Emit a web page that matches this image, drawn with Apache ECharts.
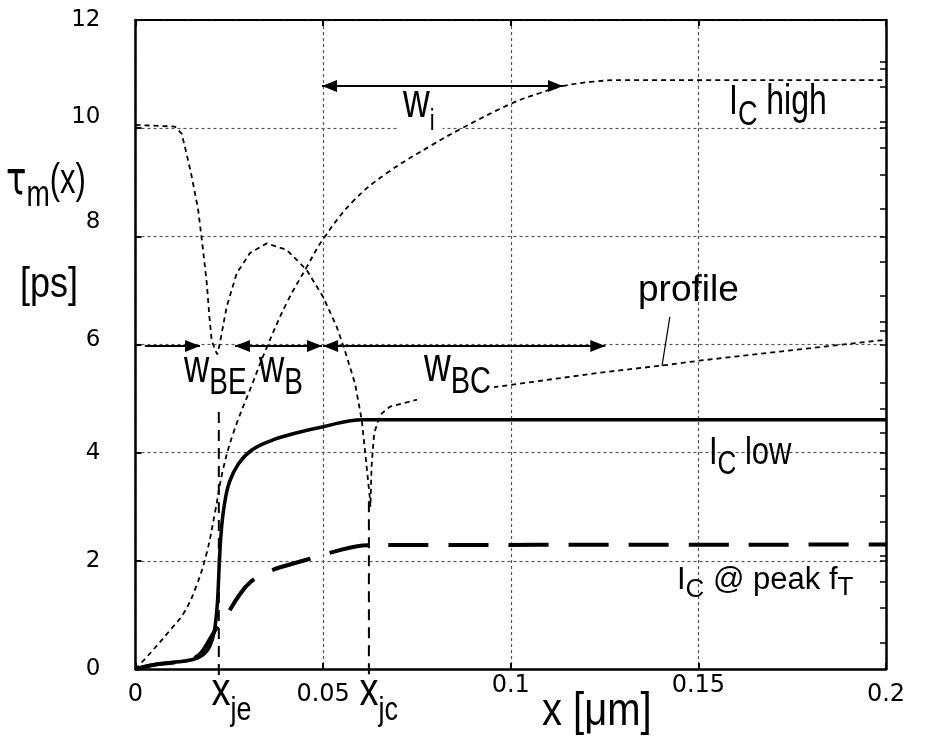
<!DOCTYPE html>
<html><head><meta charset="utf-8">
<script src="https://cdn.jsdelivr.net/npm/echarts@6/dist/echarts.min.js"></script>
<style>html,body{margin:0;padding:0;background:#fff}#c{width:927px;height:737px}</style>
</head><body><div id="c"></div>
<script>
// ---------------- data ----------------
const xTickLabels = ['0', '0.05', '0.1', '0.15', '0.2'];
const yTickLabels = ['0', '2', '4', '6', '8', '10', '12'];

// I_C low (solid)
const icLow = [[0,0],[0.005,0.08],[0.01,0.12],[0.015,0.17],[0.018,0.26],[0.0198,0.42],[0.021,0.7],[0.0218,1.2],[0.0223,1.9],[0.0228,2.5],[0.0236,3.0],[0.025,3.45],[0.0275,3.8],[0.031,4.05],[0.036,4.22],[0.042,4.35],[0.05,4.48],[0.0606,4.61],[0.2,4.61]];
// I_C @ peak fT (long dashes)
const icPeak = [[0,0],[0.005,0.08],[0.01,0.12],[0.015,0.18],[0.0175,0.3],[0.0198,0.55],[0.0221,0.81],[0.0243,1.0],[0.0275,1.35],[0.0305,1.6],[0.0353,1.8],[0.0456,2.02],[0.0513,2.14],[0.0622,2.29],[0.2,2.3]];
// I_C high (short dashes)
const icHigh = [[0,0],[0.004,0.3],[0.009,0.7],[0.013,1.05],[0.0163,1.55],[0.019,2.15],[0.0212,2.9],[0.0232,3.65],[0.026,4.35],[0.031,5.25],[0.035,5.95],[0.0403,6.77],[0.0457,7.44],[0.05,7.95],[0.058,8.65],[0.067,9.17],[0.0793,9.7],[0.0865,9.98],[0.1,10.45],[0.1078,10.65],[0.1139,10.78],[0.122,10.86],[0.13,10.89],[0.2,10.89]];
// doping profile (short dashes)
const profile = [[0,10.06],[0.0105,10.03],[0.0123,9.9],[0.0136,9.53],[0.015,9.1],[0.0167,8.49],[0.018,7.75],[0.019,7.13],[0.0197,6.51],[0.0203,6.08],[0.0212,5.9],[0.0218,5.82],[0.0225,6.03],[0.0243,6.7],[0.027,7.32],[0.0305,7.69],[0.035,7.87],[0.0403,7.75],[0.0456,7.38],[0.05,6.88],[0.0536,6.33],[0.0556,5.93],[0.0585,5.28],[0.0603,4.6],[0.0616,3.74],[0.0624,3.2],[0.0626,3.0],[0.0629,3.74],[0.0636,4.36],[0.0652,4.7],[0.0678,4.85],[0.0745,4.97],[0.0954,5.21],[0.106,5.31],[0.1238,5.48],[0.1402,5.61],[0.1502,5.7],[0.1717,5.87],[0.1975,6.07],[0.2,6.08]];

// right-hand frame ticks (values on the tau scale)
const rightTickValues = [11.22,11.09,10.76,10.11,10,9.63,9.13,8.51,8,7.53,6.9,6.42,6.26,6,5.29,4.81,4.36,4,3.7,3.2,2.72,2.09,2,1.61,1.13,0.48];

// junction markers: [x, yTop, yBottom]
const junctionLines = [[0.0222, 4.75, -0.22], [0.0622, 3.1, -0.22]];
// width arrows: [xStart, xEnd, y, heads]
const widthArrows = [[0.0025,0.0172,5.97,1],[0.0265,0.0497,5.97,2],[0.0500,0.1252,5.97,2],[0.0497,0.1139,10.78,2]];
// leader line for "profile"
const profileLeader = [[0.1424,6.51,0.1403,5.6]];

// annotation texts and their anchors (data coordinates)
const annotationTexts = ['{m|I}{s|C}{m| high}','{m|I}{s|C}{m| low}','{m|I}{s|C}{m| @ peak f}{t|T}','{m|profile}','{m|w}{s|BE}','{m|w}{s|B}','{m|w}{s|BC}','{m|w}{s|i}','{g|τ}{s|m}{m|(x)}','{m|[ps]}','{m|x}{s|je}','{m|x}{s|jc}','{m|x [μm]}'];
const annotationAnchors = [[0.15816,10.466],[0.15282,3.985],[0.1443,1.646],[0.13391,6.99],[0.01292,5.54],[0.03291,5.54],[0.07502,5.388],[0.06969,10.235],[-0.03451,9.009],[-0.03078,7.091],[0.02025,-0.442],[0.05969,-0.442],[0.10833,-0.804]];

// ---------------- styling ----------------
const FAM = 'Liberation Sans';
const labelStyles = [
  {F:32, Fs:27, P:18.5, sy:1.3},
  {F:31, Fs:26, P:18.4, sy:1.25},
  {F:31, Fs:26, P:20, Pt:16, sy:1.0},
  {F:37, sy:1.0},
  {F:35, Fs:28, P:22.5, sy:1.3},
  {F:35, Fs:28, P:22.5, sy:1.3},
  {F:37, Fs:29, P:22, sy:1.3, L:24, bg:[0,3,14.5,7]},
  {F:37, Fs:22, P:27.4, sy:1.3, L:14, bg:[0,8,17.4,6]},
  {F:31, Fs:28, P:20, Fg:34, sy:1.35},
  {F:36, sy:1.2},
  {F:38, Fs:27, P:30.5, sy:1.2},
  {F:38, Fs:27, P:30.5, sy:1.2},
  {F:40, sy:1.17}
];
const yRaise = {'10':22, '8':28, '6':8};
const xLow = {'0':1, '0.05':1, '0.2':1};
const XF = 24, YF = 23, TICKFAM = 'DejaVu Sans';

const gridLine = {show:true, lineStyle:{color:'#555', width:1.2, type:[3,3]}};
const axisLineStyle = {show:true, onZero:false, lineStyle:{color:'#000', width:2.5}};
const thinDash = {color:'#000', width:1.8, type:[5,4]};

const chart = echarts.init(document.getElementById('c'), null, {renderer:'canvas'});
const option = {
  animation:false,
  backgroundColor:'#fff',
  textStyle:{fontFamily:FAM},
  grid:{left:135.5, right:41, top:20, bottom:68, containLabel:false, outerBoundsMode:'none'},
  xAxis:[{
    type:'value', min:0, max:0.2, interval:0.05, position:'bottom',
    axisLine:axisLineStyle,
    axisTick:{show:true, inside:true, length:6, lineStyle:{color:'#000', width:2}},
    splitLine:gridLine,
    axisLabel:{
      margin:5, color:'#000', fontFamily:TICKFAM, fontSize:XF,
      formatter:function(v){
        const s = xTickLabels[Math.round(v/0.05)];
        return xLow[s] ? '{lo|'+s+'}' : '{hi|'+s+'}';
      },
      rich:{lo:{fontFamily:TICKFAM, fontSize:XF, color:'#000', padding:[9,0,0,0]}, hi:{fontFamily:TICKFAM, fontSize:XF, color:'#000'}}
    }
  },{
    type:'value', min:0, max:0.2, interval:0.05, position:'top',
    axisLine:{show:true, onZero:false, lineStyle:{color:'#000', width:2}},
    axisTick:{show:true, inside:true, length:6, lineStyle:{color:'#000', width:2}},
    axisLabel:{show:false}, splitLine:{show:false}
  }],
  yAxis:[{
    type:'value', min:0, max:12, interval:2, position:'left',
    axisLine:axisLineStyle,
    axisTick:{show:true, inside:true, length:6, lineStyle:{color:'#000', width:2}},
    splitLine:gridLine,
    axisLabel:{
      margin:35, color:'#000', fontFamily:TICKFAM, fontSize:YF,
      formatter:function(v){
        const s = yTickLabels[Math.round(v/2)];
        const r = yRaise[s];
        return r ? '{r'+r+'|'+s+'}' : '{n|'+s+'}';
      },
      rich:{
        n:{fontFamily:TICKFAM, fontSize:YF, color:'#000'},
        r22:{fontFamily:TICKFAM, fontSize:YF, color:'#000', padding:[0,0,22,0]},
        r28:{fontFamily:TICKFAM, fontSize:YF, color:'#000', padding:[0,0,28,0]},
        r8:{fontFamily:TICKFAM, fontSize:YF, color:'#000', padding:[0,0,8,0]}
      }
    }
  },{
    type:'value', min:0, max:12, interval:2, position:'right',
    axisLine:axisLineStyle,
    axisTick:{show:true, inside:true, length:6, customValues:rightTickValues, lineStyle:{color:'#000', width:1.5}},
    axisLabel:{show:false}, splitLine:{show:false}
  }],
  series:[
    {name:'profile', type:'line', data:profile, showSymbol:false, symbol:'none', lineStyle:thinDash, z:2},
    {name:'IC high', type:'line', data:icHigh, showSymbol:false, symbol:'none', smooth:0.4, lineStyle:thinDash, z:2},
    {name:'IC peak', type:'line', data:icPeak, showSymbol:false, symbol:'none', smooth:0.4, lineStyle:{color:'#000', width:4, type:[40,20]}, z:2},
    {name:'IC low', type:'line', data:icLow, showSymbol:false, symbol:'none', smooth:0.4, lineStyle:{color:'#000', width:3.5}, z:3},
    {
      name:'junctions', type:'custom', data:junctionLines, encode:{x:0, y:[1,2]}, z:3, clip:false,
      renderItem:function(params, api){
        const a = api.coord([api.value(0), api.value(1)]);
        const b = api.coord([api.value(0), api.value(2)]);
        return {type:'line', shape:{x1:a[0], y1:a[1], x2:b[0], y2:b[1]}, style:{stroke:'#000', lineWidth:2, lineDash:[11,7]}};
      }
    },
    {
      name:'leader', type:'custom', data:profileLeader, encode:{x:[0,2], y:[1,3]}, z:3, clip:false,
      renderItem:function(params, api){
        const a = api.coord([api.value(0), api.value(1)]);
        const b = api.coord([api.value(2), api.value(3)]);
        return {type:'line', shape:{x1:a[0], y1:a[1], x2:b[0], y2:b[1]}, style:{stroke:'#000', lineWidth:1.2}};
      }
    },
    {
      name:'labels', type:'custom', data:annotationAnchors, encode:{x:0, y:1}, z:5, clip:false,
      renderItem:function(params, api){
        const i = params.dataIndex, st = labelStyles[i];
        const p = api.coord([api.value(0), api.value(1)]);
        const tok = function(fs, pad, fam){
          const o = {fontSize:fs, fontFamily:fam||FAM, fill:'#000', padding:pad||[0,0,0,0]};
          if (st.L) o.lineHeight = st.L;
          return o;
        };
        const rich = {
          m: tok(st.F),
          s: tok(st.Fs||st.F, [st.P||0,0,0,0]),
          t: tok(st.Fs||st.F, [st.Pt||0,0,0,0]),
          g: tok(st.Fg||st.F, null, 'DejaVu Sans')
        };
        const style = {text:annotationTexts[i], rich:rich, fontSize:st.F, fontFamily:FAM, fill:'#000', align:'left', verticalAlign:'middle', x:0, y:0};
        if (st.L) style.lineHeight = st.L;
        if (st.bg){ style.backgroundColor = '#fff'; style.padding = st.bg; }
        return {type:'text', x:p[0], y:p[1], scaleX:1, scaleY:st.sy, style:style};
      }
    },
    {
      name:'arrows', type:'custom', data:widthArrows, encode:{x:[0,1], y:2}, z:6, clip:false,
      renderItem:function(params, api){
        const a = api.coord([api.value(0), api.value(2)]);
        const b = api.coord([api.value(1), api.value(2)]);
        const heads = api.value(3);
        const head = function(tip, dir){
          return {type:'polygon', shape:{points:[[tip[0], tip[1]], [tip[0]-dir*15, tip[1]-6], [tip[0]-dir*15, tip[1]+6]]}, style:{fill:'#000'}};
        };
        const children = [{type:'line', shape:{x1:a[0], y1:a[1], x2:b[0], y2:b[1]}, style:{stroke:'#000', lineWidth:2}}];
        children.push(head(b, 1));
        if (heads === 2) children.push(head(a, -1));
        return {type:'group', children:children};
      }
    }
  ]
};
chart.setOption(option);
</script>
</body></html>
